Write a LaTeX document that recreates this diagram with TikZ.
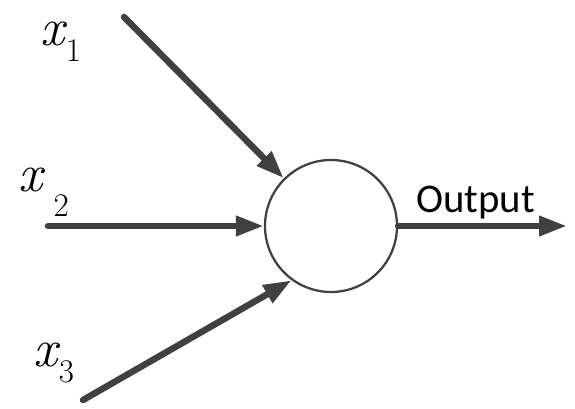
\documentclass[tikz,border=0pt]{standalone}
\usepackage{fontspec}
\newfontfamily\outfont{Carlito}
\usepackage{xcolor}
\usetikzlibrary{arrows.meta}
\definecolor{linegray}{HTML}{404040}
\newcommand{\subidx}[1]{{\upshape\fontsize{23.5}{23.5}\selectfont #1}}

\begin{document}
\begin{tikzpicture}[
    signal/.style={draw=linegray, line width=4.6pt, line cap=round, -{Triangle[length=0.7cm, width=0.48cm]}},
    unit/.style={circle, draw=linegray, line width=1.6pt, minimum size=3.3cm, inner sep=0pt},
    inlabel/.style={anchor=base west, inner sep=0pt, font=\itshape\fontsize{38}{38}\selectfont},
    outlabel/.style={anchor=base west, inner sep=0pt, font=\outfont\fontsize{29}{29}\selectfont}
]
\useasboundingbox (0,0) rectangle (14.375,-10.225);
\node[unit] (neuron) at (8.275,-5.65) {};
\coordinate (in1) at (3.1,-0.425);
\coordinate (in2) at (1.2,-5.65);
\coordinate (in3) at (2.075,-10.0);
\coordinate (outend) at (14.175,-5.65);
\draw[signal] (in1) -- (neuron);
\draw[signal] (in2) -- (neuron.west);
\draw[signal] (in3) -- (neuron.234);
\draw[signal] (neuron.east) -- (outend);
\node[inlabel] (x1) at (1.0,-1.15) {x\hspace{0.04cm}\raisebox{-0.4cm}{\subidx{1}}};
\node[inlabel] (x2) at (0.45,-4.8) {x\hspace{0.28cm}\raisebox{-0.625cm}{\subidx{2}}};
\node[inlabel] (x3) at (0.825,-9.15) {x\hspace{0.04cm}\raisebox{-0.425cm}{\subidx{3}}};
\node[outlabel] (outtext) at (10.4,-5.325) {Output};
\end{tikzpicture}
\end{document}
